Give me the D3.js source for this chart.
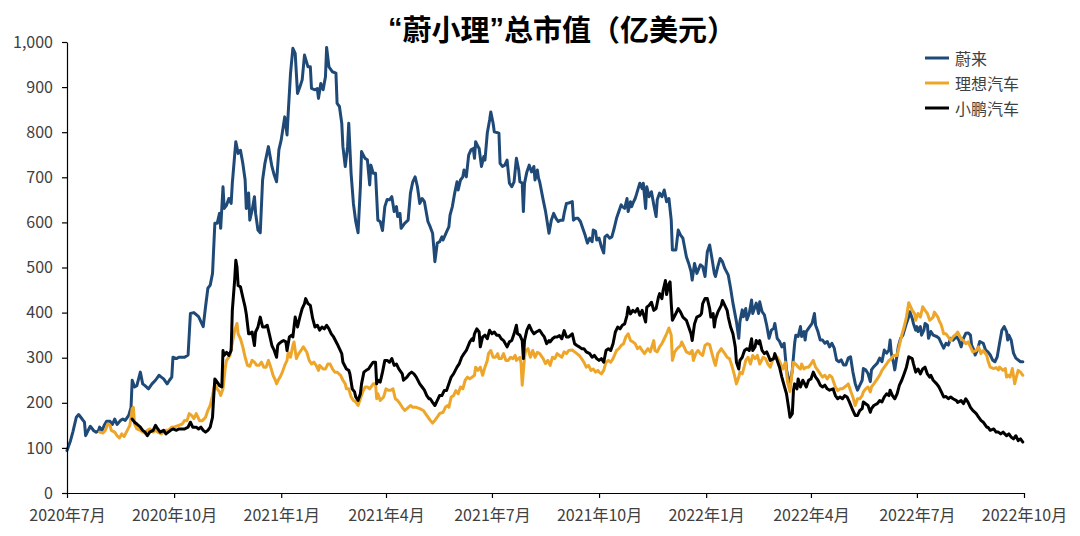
<!DOCTYPE html>
<html><head><meta charset="utf-8">
<script src="https://cdn.jsdelivr.net/npm/d3@7"></script>
<style>
body{margin:0;background:#fff}
svg{display:block}
text{font-family:"Noto Sans CJK SC","Noto Sans",sans-serif}
</style>
</head><body>
<svg id="chart" width="1080" height="536"></svg>
<script>
const titleParts = [["“", true], ["蔚小理", false], ["”", true], ["总市值（亿美元）", false]];
const seriesNames = ["蔚来", "理想汽车", "小鹏汽车"];
const seriesColors = ["#1f4a78", "#eea62a", "#000000"];
const startDate = "2020-07-01";
const endDate = "2022-10-01";
const xTickDates = ["2020-07-01","2020-10-01","2021-01-01","2021-04-01","2021-07-01","2021-10-01","2022-01-01","2022-04-01","2022-07-01","2022-10-01"];
const yTickValues = [0,100,200,300,400,500,600,700,800,900,1000];

// [days since 2020-07-01, market cap in 100M USD]
const nio = [[0,94],[3,116],[5,135],[8,168],[10,174],[13,164],[15,157],[16,127],[18,138],[20,148],[23,138],[25,135],[27,138],[28,146],[30,138],[32,150],[34,159],[37,159],[39,152],[41,164],[43,152],[46,161],[48,164],[50,161],[53,172],[55,190],[56,250],[58,235],[60,238],[63,268],[65,242],[67,238],[70,231],[73,242],[76,250],[79,261],[81,257],[83,253],[86,242],[88,250],[90,257],[91,301],[94,298],[96,301],[99,301],[101,301],[104,306],[106,398],[109,400],[113,391],[117,369],[119,413],[121,454],[123,461],[125,487],[127,598],[129,598],[131,620],[132,587],[134,679],[135,631],[137,638],[139,653],[141,642],[142,687],[145,779],[147,753],[149,760],[151,731],[153,694],[154,631],[156,665],[157,605],[159,627],[161,657],[162,620],[164,583],[166,577],[168,694],[170,731],[173,768],[176,724],[178,705],[180,690],[182,761],[184,783],[187,834],[189,794],[190,842],[192,931],[194,986],[196,975],[198,886],[200,900],[202,916],[204,971],[207,945],[209,945],[210,897],[213,894],[215,897],[216,875],[218,908],[220,894],[222,923],[223,988],[225,945],[228,934],[231,931],[232,864],[234,857],[236,820],[237,768],[239,724],[241,768],[242,820],[244,709],[246,642],[248,602],[250,577],[252,679],[253,757],[256,742],[258,739],[260,683],[261,727],[263,709],[265,709],[267,605],[269,602],[271,582],[273,635],[275,651],[277,650],[279,657],[281,624],[283,635],[284,613],[286,620],[287,587],[290,598],[293,605],[295,665],[297,690],[299,701],[301,679],[303,642],[305,653],[307,646],[310,602],[312,590],[314,576],[315,546],[316,513],[318,554],[320,557],[322,568],[323,561],[326,579],[328,590],[329,616],[331,635],[333,665],[335,690],[336,672],[338,694],[340,701],[341,716],[343,701],[345,749],[347,761],[349,764],[350,742],[351,779],[353,768],[354,764],[356,724],[358,746],[359,738],[361,798],[363,827],[364,845],[366,820],[367,801],[371,798],[372,731],[374,724],[376,727],[378,738],[380,687],[382,679],[384,690],[386,742],[388,716],[389,690],[391,687],[392,624],[393,687],[395,712],[397,727],[399,712],[401,724],[402,694],[404,716],[405,698],[406,690],[409,650],[411,625],[414,576],[416,605],[418,620],[420,609],[422,602],[424,605],[426,605],[427,620],[429,642],[431,643],[434,646],[435,605],[437,609],[439,609],[441,602],[443,587],[445,572],[447,554],[449,565],[451,557],[452,583],[454,580],[455,561],[457,565],[459,546],[461,532],[462,568],[464,572],[466,565],[468,568],[470,587],[472,609],[474,624],[476,639],[477,635],[479,631],[481,653],[482,624],[484,646],[485,635],[486,642],[488,653],[489,661],[492,687],[494,675],[495,687],[497,631],[498,679],[500,657],[502,668],[504,639],[506,613],[507,650],[509,665],[511,657],[513,672],[515,646],[517,653],[519,605],[520,539],[523,539],[525,583],[527,572],[529,565],[532,524],[534,509],[536,491],[537,472],[539,509],[541,487],[544,506],[546,502],[548,480],[550,535],[552,550],[554,520],[556,487],[557,480],[559,502],[561,520],[563,513],[565,498],[568,483],[570,454],[572,421],[575,380],[577,343],[578,380],[580,406],[581,391],[583,409],[584,384],[586,398],[588,428],[589,398],[592,421],[594,398],[595,424],[597,402],[599,395],[601,372],[603,343],[605,361],[607,365],[608,376],[610,343],[612,336],[614,324],[616,332],[618,273],[621,239],[623,273],[625,332],[626,350],[628,347],[630,369],[631,347],[633,358],[634,339],[635,358],[638,369],[640,376],[642,398],[643,372],[645,358],[647,339],[649,339],[651,332],[653,336],[655,324],[657,332],[659,321],[661,295],[663,291],[665,295],[667,284],[669,284],[671,299],[673,302],[675,269],[677,243],[679,228],[681,239],[683,250],[684,276],[686,273],[688,265],[690,247],[691,273],[693,280],[696,288],[698,299],[700,291],[702,317],[704,310],[706,317],[707,339],[708,310],[710,288],[711,273],[713,306],[714,324],[716,343],[718,350],[721,376],[723,391],[724,402],[726,387],[727,376],[729,361],[730,369],[731,358],[733,369],[734,350],[736,361],[737,376],[739,372],[740,343],[742,358],[744,350],[747,347],[749,343],[751,332],[753,321],[755,332],[757,328],[759,343],[761,339],[764,347],[766,339],[768,324],[770,343],[772,354],[774,355],[776,350],[777,328],[779,317],[780,306],[782,317],[784,336],[787,332],[789,317],[791,313],[793,306],[795,295],[797,291],[799,302],[801,332],[803,361],[805,369],[807,358],[808,339],[809,350],[811,339],[812,324],[813,310],[815,299],[817,295],[819,291],[821,291]];

const li = [[28,135],[31,133],[33,139],[35,153],[37,150],[38,139],[41,135],[43,127],[45,122],[47,131],[49,125],[51,135],[54,150],[56,187],[57,190],[58,153],[60,142],[63,139],[65,135],[67,133],[69,139],[71,142],[74,135],[76,139],[78,135],[81,131],[84,139],[87,139],[90,146],[93,147],[96,150],[99,153],[101,161],[103,160],[105,176],[107,172],[109,165],[111,176],[114,160],[116,160],[118,165],[119,168],[121,183],[123,194],[125,216],[127,242],[129,231],[131,224],[132,216],[134,231],[136,279],[137,294],[139,301],[140,305],[141,320],[143,346],[144,360],[146,376],[147,353],[149,342],[151,324],[153,301],[155,283],[157,281],[159,294],[161,290],[163,283],[165,283],[167,290],[169,279],[171,279],[173,294],[175,279],[177,261],[179,250],[180,242],[182,253],[183,257],[185,268],[187,283],[189,294],[190,312],[192,301],[194,327],[195,335],[197,298],[199,309],[201,316],[203,324],[206,312],[208,294],[210,286],[212,290],[214,283],[216,272],[217,283],[220,275],[222,275],[224,286],[226,286],[228,275],[230,268],[232,268],[235,261],[237,250],[239,242],[240,231],[242,231],[244,213],[246,205],[248,202],[250,194],[252,209],[254,224],[256,235],[258,235],[260,231],[263,242],[265,242],[266,209],[267,220],[269,205],[272,213],[274,231],[276,228],[278,228],[280,231],[282,209],[284,205],[286,198],[288,190],[290,183],[292,187],[295,194],[297,190],[300,190],[303,187],[306,183],[309,172],[312,161],[314,155],[316,161],[318,168],[320,176],[323,179],[325,190],[327,194],[328,190],[330,213],[332,216],[334,227],[336,220],[338,235],[340,231],[342,250],[344,257],[346,253],[348,257],[350,261],[351,279],[353,272],[355,279],[357,261],[359,279],[361,294],[362,309],[364,316],[366,301],[368,301],[370,309],[371,298],[373,298],[375,309],[377,294],[379,294],[381,301],[383,298],[385,305],[386,294],[389,301],[390,287],[391,239],[393,301],[394,316],[396,320],[398,301],[400,316],[402,301],[404,312],[406,309],[409,298],[411,287],[413,294],[415,283],[417,301],[419,298],[421,309],[423,305],[425,301],[427,313],[429,309],[431,316],[434,317],[436,313],[438,309],[440,305],[442,298],[444,290],[446,279],[448,283],[450,272],[452,275],[454,268],[456,272],[457,268],[459,264],[461,272],[463,290],[465,294],[467,290],[469,298],[472,316],[474,320],[476,327],[478,331],[480,346],[482,353],[484,338],[486,335],[488,331],[490,320],[492,324],[494,316],[496,309],[497,313],[499,320],[501,313],[504,338],[505,316],[507,313],[509,324],[511,331],[513,342],[515,353],[517,366],[519,350],[520,294],[522,313],[524,320],[527,327],[528,335],[530,324],[532,313],[535,309],[537,316],[538,294],[540,309],[542,316],[544,309],[546,305],[548,327],[550,331],[552,329],[554,309],[556,290],[557,283],[559,309],[562,320],[563,316],[565,309],[567,301],[569,298],[571,283],[573,264],[575,242],[577,257],[578,268],[580,264],[582,283],[583,294],[585,301],[587,286],[589,305],[591,298],[593,305],[595,286],[598,301],[600,298],[602,286],[604,279],[606,294],[608,305],[610,301],[612,292],[615,275],[617,290],[619,245],[621,225],[623,272],[624,290],[627,283],[628,279],[630,275],[631,286],[633,275],[635,279],[637,279],[639,286],[641,294],[643,279],[645,272],[647,264],[649,257],[651,261],[653,253],[655,261],[657,257],[659,242],[660,235],[662,227],[664,231],[666,231],[668,235],[670,239],[671,242],[673,227],[675,213],[677,194],[679,209],[681,209],[683,216],[684,224],[686,231],[688,235],[690,224],[691,235],[693,242],[696,253],[698,261],[700,272],[702,279],[704,286],[706,294],[708,298],[710,305],[713,305],[715,328],[717,350],[719,368],[721,390],[723,422],[726,405],[728,398],[729,383],[731,398],[733,390],[735,413],[737,405],[739,398],[741,383],[744,390],[745,401],[748,390],[749,383],[751,372],[753,353],[755,353],[757,346],[759,338],[761,346],[764,353],[765,357],[768,342],[770,338],[772,331],[774,335],[776,324],[778,313],[781,316],[783,324],[785,309],[787,316],[790,305],[791,294],[793,279],[796,276],[798,278],[800,273],[801,279],[804,272],[806,276],[807,257],[809,261],[810,257],[812,276],[814,242],[815,253],[817,272],[819,268],[821,261]];

const xpeng = [[56,164],[58,157],[60,153],[63,146],[65,139],[67,135],[69,127],[71,135],[74,139],[76,150],[78,142],[80,135],[83,139],[85,131],[87,135],[89,139],[91,142],[94,139],[96,142],[99,142],[101,142],[104,146],[106,157],[108,146],[111,146],[113,142],[115,146],[117,139],[119,135],[121,139],[123,146],[125,168],[126,213],[127,253],[129,246],[131,238],[133,235],[134,316],[135,305],[137,312],[139,305],[141,316],[142,405],[144,472],[145,516],[146,501],[147,460],[149,457],[151,434],[153,412],[154,397],[156,353],[157,353],[159,357],[161,327],[162,357],[164,368],[166,390],[168,368],[170,368],[172,372],[174,350],[176,327],[178,316],[180,301],[181,327],[182,331],[184,335],[186,338],[188,335],[189,316],[191,346],[193,350],[194,346],[196,390],[198,368],[200,390],[202,409],[204,420],[205,431],[207,420],[209,416],[211,387],[213,368],[215,372],[217,361],[219,368],[221,364],[223,372],[225,364],[227,353],[229,346],[232,331],[234,320],[236,309],[237,290],[240,275],[242,272],[243,264],[245,231],[247,224],[248,213],[250,205],[252,220],[253,242],[255,268],[257,272],[259,275],[261,283],[263,290],[265,290],[266,242],[267,250],[269,246],[271,268],[273,294],[275,294],[277,290],[279,298],[281,283],[283,286],[285,275],[288,264],[289,250],[292,257],[294,264],[296,268],[298,264],[300,257],[303,242],[305,235],[307,228],[309,216],[311,209],[312,209],[314,201],[316,194],[318,205],[320,216],[322,216],[324,227],[326,227],[328,242],[330,257],[332,264],[335,279],[337,287],[339,301],[341,309],[343,316],[346,335],[348,342],[349,338],[350,353],[352,364],[354,357],[355,324],[357,346],[359,350],[361,342],[363,361],[365,353],[367,357],[369,350],[371,350],[373,342],[375,338],[378,324],[380,335],[382,338],[384,353],[386,372],[387,353],[389,350],[391,338],[392,298],[393,338],[395,361],[397,372],[399,361],[401,353],[403,357],[406,361],[408,353],[410,346],[412,331],[414,338],[415,335],[417,342],[419,346],[421,346],[423,349],[425,342],[427,360],[429,346],[431,346],[434,353],[436,331],[438,327],[440,324],[442,320],[444,320],[446,313],[449,309],[451,301],[453,305],[455,298],[457,294],[459,298],[461,290],[463,316],[465,320],[467,316],[469,331],[471,357],[473,368],[475,364],[477,372],[479,375],[481,394],[482,412],[484,397],[486,405],[488,401],[490,409],[492,394],[494,405],[495,397],[497,379],[498,412],[500,416],[502,423],[504,405],[506,409],[508,434],[509,442],[511,431],[512,449],[514,471],[515,440],[517,464],[518,468],[519,420],[520,383],[523,398],[525,409],[527,401],[529,390],[532,383],[534,368],[536,353],[537,338],[539,375],[541,390],[544,394],[545,398],[546,420],[548,431],[550,431],[552,409],[553,390],[555,398],[556,368],[557,386],[559,401],[562,416],[563,427],[565,416],[567,405],[568,390],[570,368],[572,353],[574,324],[575,290],[577,275],[578,294],[580,301],[581,309],[582,316],[584,320],[586,316],[588,342],[589,316],[591,324],[592,338],[594,331],[595,338],[597,316],[599,309],[601,313],[603,301],[604,294],[607,298],[608,309],[610,294],[612,279],[614,257],[616,238],[618,220],[620,186],[621,168],[623,176],[624,228],[625,242],[627,231],[628,253],[630,235],[632,250],[635,235],[637,250],[639,253],[641,268],[643,257],[645,250],[647,239],[649,235],[651,239],[653,231],[655,228],[658,231],[660,216],[662,209],[664,213],[666,209],[668,216],[670,213],[672,202],[675,183],[677,172],[679,172],[681,183],[683,187],[684,202],[686,198],[688,194],[690,179],[691,187],[693,194],[696,198],[698,205],[700,202],[702,213],[704,220],[706,216],[707,228],[709,216],[711,209],[713,220],[715,239],[717,250],[719,264],[721,279],[723,302],[726,298],[727,287],[729,268],[731,275],[733,264],[735,275],[737,279],[739,264],[741,257],[742,261],[744,250],[747,242],[749,235],[751,224],[753,213],[755,214],[757,209],[759,213],[761,209],[764,205],[765,201],[768,205],[770,198],[772,209],[774,201],[776,190],[778,183],[781,176],[783,168],[785,161],[787,157],[790,146],[791,146],[793,139],[796,142],[798,135],[800,135],[802,131],[804,135],[807,127],[809,131],[811,124],[813,120],[815,127],[817,116],[819,120],[821,113]];

const seriesData = [nio, li, xpeng];

const svg = d3.select("#chart");
const parse = d3.timeParse("%Y-%m-%d");
const t0 = parse(startDate);
const dayToDate = d => d3.timeDay.offset(t0, d);

const x = d3.scaleTime().domain([t0, parse(endDate)]).range([67, 1024]);
const y = d3.scaleLinear().domain([0, 1000]).range([493, 42]);

// title (narrow Latin-style quotes, as in the reference)
const title = svg.append("text")
  .attr("x", 562).attr("y", 28)
  .attr("text-anchor", "middle").attr("dominant-baseline", "central")
  .attr("font-size", 29).attr("font-weight", "bold").attr("fill", "#000");
titleParts.forEach(([txt, latin]) => {
  const ts = title.append("tspan").text(txt);
  if (latin) ts.attr("font-family", '"Liberation Sans", Arial, sans-serif');
});

// lines
const line = d3.line()
  .x(d => x(dayToDate(d[0])))
  .y(d => y(d[1]));

seriesData.forEach((data, i) => {
  svg.append("path")
    .datum(data)
    .attr("fill", "none")
    .attr("stroke", seriesColors[i])
    .attr("stroke-width", 3)
    .attr("stroke-linejoin", "round")
    .attr("stroke-linecap", "round")
    .attr("d", line);
});

// axes
const fmtMonth = d => d.getFullYear() + "年" + (d.getMonth() + 1) + "月";
const xAxis = d3.axisBottom(x)
  .tickValues(xTickDates.map(parse))
  .tickFormat(fmtMonth)
  .tickSizeInner(5).tickSizeOuter(0).tickPadding(12);
const gx = svg.append("g").attr("transform", "translate(0,493)").call(xAxis);

const yAxis = d3.axisLeft(y)
  .tickValues(yTickValues)
  .tickFormat(d3.format(","))
  .tickSizeInner(5).tickSizeOuter(0).tickPadding(9);
const gy = svg.append("g").attr("transform", "translate(67,0)").call(yAxis);

[gx, gy].forEach(g => {
  g.select(".domain").attr("stroke", "#000").attr("stroke-width", 1.2);
  g.selectAll(".tick line").attr("stroke", "#000").attr("stroke-width", 1.2);
  g.selectAll(".tick text")
    .attr("font-family", '"Noto Sans CJK SC","Noto Sans",sans-serif')
    .attr("font-size", 16).attr("fill", "#404040");
});

// legend
const legend = svg.append("g");
seriesNames.forEach((name, i) => {
  const ly = 58 + i * 25;
  legend.append("line")
    .attr("x1", 925).attr("x2", 949)
    .attr("y1", ly).attr("y2", ly)
    .attr("stroke", seriesColors[i]).attr("stroke-width", 3);
  legend.append("text")
    .attr("x", 955).attr("y", ly)
    .attr("dominant-baseline", "central")
    .attr("font-size", 16).attr("fill", "#404040")
    .text(name);
});
</script>
</body></html>
